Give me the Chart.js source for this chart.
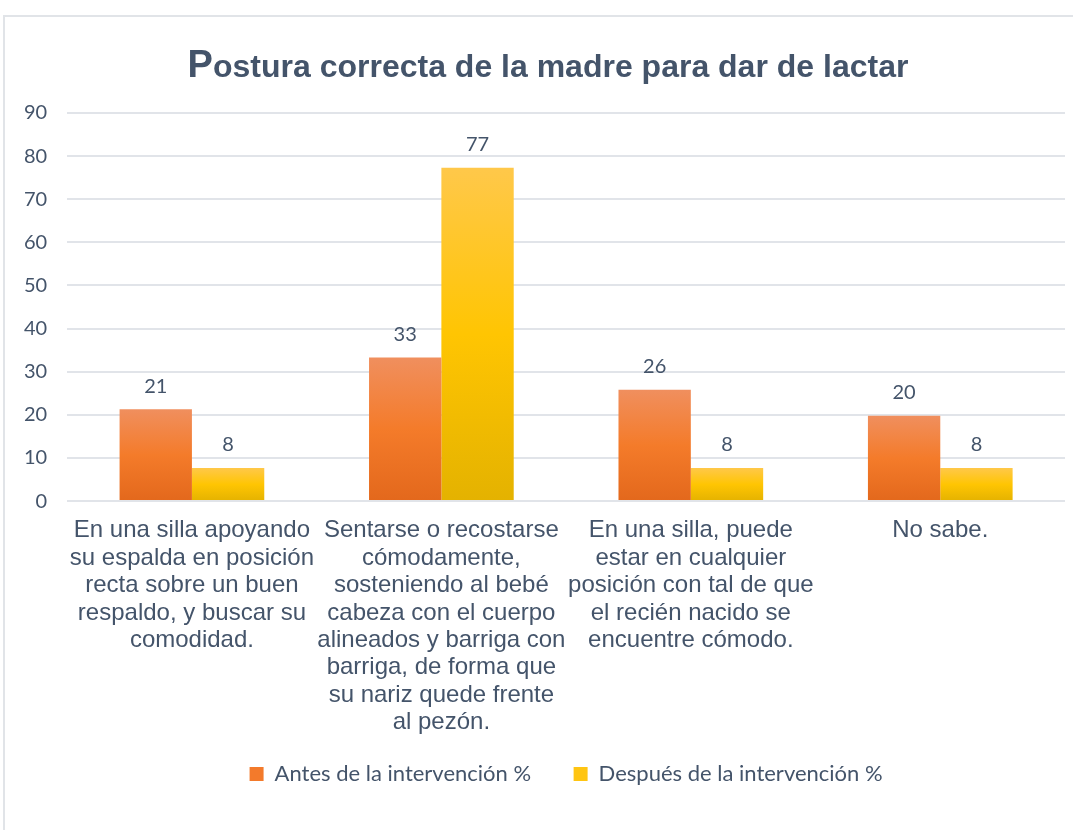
<!DOCTYPE html>
<html>
<head>
<meta charset="utf-8">
<script src="https://cdn.jsdelivr.net/npm/chart.js@4.4.1/dist/chart.umd.min.js"></script>
<style>
  html, body { margin: 0; padding: 0; background: #ffffff; overflow: hidden; }
  #frame { position: absolute; left: 3px; top: 15px; width: 1100px; height: 900px; border: 2px solid #E1E4E8; box-sizing: border-box; }
  #wrap { position: absolute; left: 0; top: 0; width: 1073px; height: 830px; }
</style>
</head>
<body>
<div id="frame"></div>
<div id="wrap"><canvas id="c" width="1073" height="830"></canvas></div>
<script>
const titleText = "Postura correcta de la madre para dar de lactar";
const categories = [
  ["En una silla apoyando", "su espalda en posición", "recta sobre un buen", "respaldo, y buscar su", "comodidad."],
  ["Sentarse o recostarse", "cómodamente,", "sosteniendo al bebé", "cabeza con el cuerpo", "alineados y barriga con", "barriga, de forma que", "su nariz quede frente", "al pezón."],
  ["En una silla, puede", "estar en cualquier", "posición con tal de que", "el recién nacido se", "encuentre cómodo."],
  ["No sabe."]
];
const seriesNames = ["Antes de la intervención %", "Después de la intervención %"];
const antes = [21.3, 33.3, 25.8, 19.8];
const despues = [7.7, 77.3, 7.7, 7.7];
const yTicks = [0, 10, 20, 30, 40, 50, 60, 70, 80, 90];

const orangeStops = ["#F08F5E", "#F47B2A", "#E3681C"];
const yellowStops = ["#FFC84A", "#FFC502", "#E4B200"];

function barGradient(stops) {
  return function (ctx) {
    const chart = ctx.chart;
    if (ctx.type !== 'data' || !chart.chartArea) return stops[1];
    const ys = chart.scales.y;
    const top = ys.getPixelForValue(ctx.raw);
    const bot = ys.getPixelForValue(0);
    if (!isFinite(top) || !isFinite(bot) || top === bot) return stops[1];
    const g = chart.ctx.createLinearGradient(0, top, 0, bot);
    g.addColorStop(0, stops[0]);
    g.addColorStop(0.5, stops[1]);
    g.addColorStop(1, stops[2]);
    return g;
  };
}

const titlePlugin = {
  id: 'bigInitialTitle',
  afterDraw(chart) {
    const ctx = chart.ctx;
    ctx.save();
    ctx.fillStyle = '#44546A';
    ctx.textBaseline = 'alphabetic';
    ctx.textAlign = 'left';
    const f1 = 'bold 38px "Liberation Sans", Arial, sans-serif';
    const f2 = 'bold 32px "Liberation Sans", Arial, sans-serif';
    const first = titleText.charAt(0), rest = titleText.slice(1);
    ctx.font = f1; const w1 = ctx.measureText(first).width;
    ctx.font = f2; const w2 = ctx.measureText(rest).width;
    const x0 = 548 - (w1 + w2) / 2;
    const base = 77;
    ctx.font = f1; ctx.fillText(first, x0, base);
    ctx.font = f2; ctx.fillText(rest, x0 + w1, base);
    ctx.restore();
  }
};

const valueLabels = {
  id: 'valueLabels',
  afterDatasetsDraw(chart) {
    const ctx = chart.ctx;
    ctx.save();
    ctx.font = '20px Lato, "Open Sans", sans-serif';
    ctx.fillStyle = '#44546A';
    ctx.textAlign = 'center';
    ctx.textBaseline = 'bottom';
    chart.data.datasets.forEach((ds, i) => {
      const meta = chart.getDatasetMeta(i);
      meta.data.forEach((bar, j) => {
        ctx.fillText(Math.round(ds.data[j]).toString(), bar.x, bar.y - 13);
      });
    });
    ctx.restore();
  }
};

new Chart(document.getElementById('c'), {
  type: 'bar',
  data: {
    labels: categories,
    datasets: [
      { label: seriesNames[0], data: antes, backgroundColor: barGradient(orangeStops), borderWidth: 0 },
      { label: seriesNames[1], data: despues, backgroundColor: barGradient(yellowStops), borderWidth: 0 }
    ]
  },
  options: {
    responsive: false,
    animation: false,
    devicePixelRatio: 1,
    layout: { padding: { top: 113, left: 4, right: 8, bottom: 35 } },
    datasets: { bar: { categoryPercentage: 0.58, barPercentage: 1.0 } },
    plugins: {
      title: { display: false },
      legend: {
        position: 'bottom',
        fullSize: false,
        labels: {
          color: '#44546A',
          font: { family: 'Lato, "Open Sans", sans-serif', size: 22 },
          boxWidth: 14,
          boxHeight: 14,
          padding: 20,
          generateLabels(chart) {
            const cols = ['#F37A2B', '#FFC512'];
            const pad = ['\u00A0\u00A0\u00A0\u00A0', ''];
            return chart.data.datasets.map((ds, i) => ({
              text: ds.label + pad[i],
              fillStyle: cols[i],
              strokeStyle: cols[i],
              lineWidth: 0,
              hidden: false,
              datasetIndex: i,
              fontColor: '#44546A'
            }));
          }
        }
      },
      tooltip: { enabled: false }
    },
    scales: {
      x: {
        grid: { display: false, drawTicks: false },
        border: { display: false },
        afterFit(scale) { scale.height -= 9; },
        ticks: {
          color: '#44546A',
          font: { family: '"Liberation Sans", Arial, sans-serif', size: 24, lineHeight: 1.14 },
          padding: 16,
          maxRotation: 0,
          autoSkip: false
        }
      },
      y: {
        min: 0,
        max: 90,
        afterBuildTicks(scale) { scale.ticks = yTicks.map(v => ({ value: v })); },
        grid: { color: '#E1E4E9', lineWidth: 2, drawTicks: false },
        border: { display: false },
        ticks: {
          color: '#44546A',
          font: { family: 'Lato, "Open Sans", sans-serif', size: 20 },
          padding: 20
        }
      }
    }
  },
  plugins: [valueLabels, titlePlugin]
});
</script>
</body>
</html>
